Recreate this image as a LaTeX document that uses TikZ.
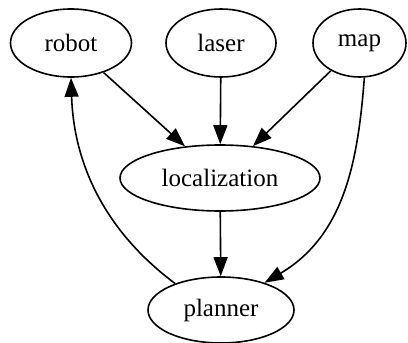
\documentclass[tikz,border=0pt]{standalone}
\usepackage{fontspec}
\setmainfont{Liberation Serif}
\usetikzlibrary{arrows.meta,shapes.geometric}
\tikzset{
  graph/.style={
    x=1pt,
    y=-1pt,
    line width=1.6pt,
    font=\fontsize{25}{28}\selectfont
  },
  state/.style={
    ellipse,
    draw=black,
    inner sep=0pt,
    minimum height=68pt
  },
  edge/.style={
    -{Triangle[length=19pt,width=14pt]},
    draw=black
  }
}

\begin{document}
\begin{tikzpicture}[graph]
  \useasboundingbox (0,0) rectangle (408,343);

  % top row
  \node[state, minimum width=121pt] (robot) at (71,43) {robot};
  \node[state, minimum width=110pt] (laser) at (221,43) {laser};
  \node[state, minimum width=93pt]  (map)   at (359.5,43) {map};

  % middle and bottom
  \node[state, minimum width=200pt, minimum height=66pt] (localization) at (220,178) {localization};
  \node[state, minimum width=146pt, minimum height=66pt] (planner) at (221,310) {planner};

  \draw[edge] (robot) -- (localization);
  \draw[edge] (laser) -- (localization);
  \draw[edge] (map) -- (localization);
  \draw[edge] (localization) -- (planner);
  \draw[edge] (map.-82) .. controls (358,160) and (345,235) .. (planner.32);
  \draw[edge] (planner.150) .. controls (110,235) and (74,170) .. (robot.south);

\end{tikzpicture}
\end{document}
